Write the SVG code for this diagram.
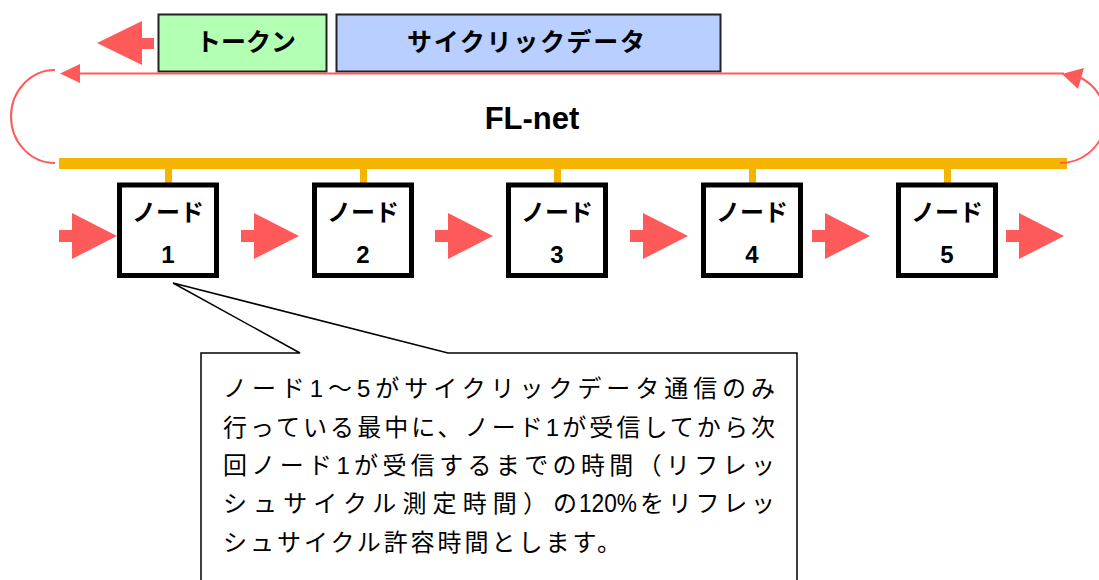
<svg xmlns="http://www.w3.org/2000/svg" width="1099" height="580" viewBox="0 0 1099 580">
<style>
.t{font-family:"Liberation Sans","Noto Sans CJK JP",sans-serif;fill:#000}
.b{font-weight:bold}
.node rect.box{fill:#fff;stroke:#000;stroke-width:5}
.stub{fill:#F5B400}
.red{fill:#FF5A5A}
.redline{fill:none;stroke:#FF5A5A;stroke-width:2}
.tag{stroke:#222;stroke-width:2}
</style>
<defs>
<path id="ra" d="M0,-6 H13 V-23 L58,0 L13,23 V6 H0 Z"/>
</defs>
<rect width="1099" height="580" fill="#fff"/>

<g id="token">
<rect class="tag" x="158.5" y="14.5" width="168" height="57" fill="#B3FFB3"/>
<text class="t b" x="196" y="51" font-size="25" textLength="100" lengthAdjust="spacing">トークン</text>
</g>
<g id="cyclic-data">
<rect class="tag" x="336.5" y="14.5" width="384" height="57" fill="#B9CFFF"/>
<text class="t b" x="407" y="51" font-size="25" textLength="238" lengthAdjust="spacing">サイクリックデータ</text>
</g>

<g id="fl-net">
<rect x="59" y="158" width="1008" height="11" fill="#F5B400"/>
<text class="t b" x="532" y="129" font-size="31" text-anchor="middle">FL-net</text>
</g>

<g id="connectors">
<path class="red" d="M97,43 L142,21 V38 H154 V49 H142 V65 Z"/>
<line class="redline" x1="78" y1="73.5" x2="1064" y2="73.5"/>
<path class="red" d="M60,73.5 L80,64 V83 Z"/>
<path class="redline" d="M55,163 A44,46.5 0 0 1 55,70"/>
<path class="redline" d="M1060,163 A45,45 0 0 0 1079,77"/>
<path class="red" d="M1062,74 L1084,68 L1078,89 Z"/>
<rect class="stub" x="165" y="169" width="7" height="14"/>
<rect class="stub" x="360" y="169" width="7" height="14"/>
<rect class="stub" x="554" y="169" width="7" height="14"/>
<rect class="stub" x="749" y="169" width="7" height="14"/>
<rect class="stub" x="944" y="169" width="7" height="14"/>
<use href="#ra" class="red" x="59" y="236"/>
<use href="#ra" class="red" x="241" y="236"/>
<use href="#ra" class="red" x="435" y="236"/>
<use href="#ra" class="red" x="630" y="236"/>
<use href="#ra" class="red" x="812" y="236"/>
<use href="#ra" class="red" x="1006" y="236"/>
</g>

<g id="node1" class="node">
<rect class="box" x="119.5" y="185" width="97" height="90.5"/>
<text class="t b" x="168" y="221" font-size="24" text-anchor="middle">ノード</text>
<text class="t b" x="168" y="263" font-size="24" text-anchor="middle">1</text>
</g>
<g id="node2" class="node">
<rect class="box" x="314.5" y="185" width="97" height="90.5"/>
<text class="t b" x="363" y="221" font-size="24" text-anchor="middle">ノード</text>
<text class="t b" x="363" y="263" font-size="24" text-anchor="middle">2</text>
</g>
<g id="node3" class="node">
<rect class="box" x="508.5" y="185" width="97" height="90.5"/>
<text class="t b" x="557" y="221" font-size="24" text-anchor="middle">ノード</text>
<text class="t b" x="557" y="263" font-size="24" text-anchor="middle">3</text>
</g>
<g id="node4" class="node">
<rect class="box" x="703.5" y="185" width="97" height="90.5"/>
<text class="t b" x="752" y="221" font-size="24" text-anchor="middle">ノード</text>
<text class="t b" x="752" y="263" font-size="24" text-anchor="middle">4</text>
</g>
<g id="node5" class="node">
<rect class="box" x="898.5" y="185" width="97" height="90.5"/>
<text class="t b" x="947" y="221" font-size="24" text-anchor="middle">ノード</text>
<text class="t b" x="947" y="263" font-size="24" text-anchor="middle">5</text>
</g>

<g id="callout">
<path d="M300,353 L173,283 L448,353 H797 V592 H201 V353 Z" fill="#fff" stroke="#000" stroke-width="1.5"/>
<text class="t" x="223" y="397" font-size="24" textLength="552" lengthAdjust="spacing">ノード1～5がサイクリックデータ通信のみ</text>
<text class="t" x="223" y="435.5" font-size="24" textLength="552" lengthAdjust="spacing">行っている最中に、ノード1が受信してから次</text>
<text class="t" x="223" y="474" font-size="24" textLength="552" lengthAdjust="spacing">回ノード1が受信するまでの時間（リフレッ</text>
<text class="t" x="223" y="512" font-size="24" textLength="354" lengthAdjust="spacing">シュサイクル測定時間）の</text>
<text class="t" x="579" y="512" font-size="26" textLength="58" lengthAdjust="spacingAndGlyphs">120%</text>
<text class="t" x="640" y="512" font-size="24" textLength="135" lengthAdjust="spacing">をリフレッ</text>
<text class="t" x="223" y="550.5" font-size="24" textLength="398" lengthAdjust="spacing">シュサイクル許容時間とします。</text>
</g>
</svg>
